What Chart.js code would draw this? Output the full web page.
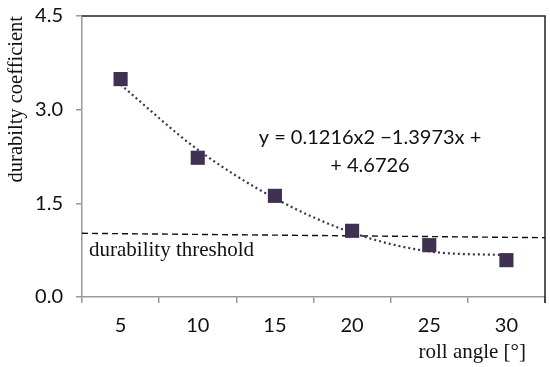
<!DOCTYPE html>
<html>
<head>
<meta charset="utf-8">
<script src="https://cdn.jsdelivr.net/npm/chart.js@4/dist/chart.umd.min.js"></script>
<style>
  html, body { margin: 0; padding: 0; background: #fff; }
  #wrap { width: 550px; height: 367px; }
</style>
</head>
<body>
<div id="wrap"><canvas id="durChart"></canvas></div>
<script>
// data
const rollAngles = ['5', '10', '15', '20', '25', '30'];
const durability = [3.49, 2.23, 1.62, 1.06, 0.83, 0.59];
// polynomial trendline values at each category (as plotted)
const trendValues = [3.40, 2.36, 1.58, 1.03, 0.73, 0.67];
// dashed threshold, value at left and right edge of the plot
const thresholdEnds = [1.02, 0.95];
const yTicks = [0.0, 1.5, 3.0, 4.5];

const markColor = '#403152';
const sansFont = 'Lato, "Open Sans", sans-serif';
const serifFont = '"Liberation Serif", "DejaVu Serif", serif';

// frame, equation and threshold label
const extras = {
    id: 'extras',
    afterDatasetsDraw(chart) {
        const { ctx, chartArea: a, scales } = chart;
        ctx.save();
        ctx.strokeStyle = '#222';
        ctx.lineWidth = 1.5;
        ctx.beginPath();
        ctx.moveTo(a.left, a.top);
        ctx.lineTo(a.right, a.top);
        ctx.lineTo(a.right, a.bottom + 6);
        ctx.stroke();

        ctx.fillStyle = '#111';
        ctx.textAlign = 'center';
        ctx.textBaseline = 'middle';
        ctx.font = '20px ' + sansFont;
        const eqX = a.left + a.width * 0.622;
        ctx.fillText('y = 0.1216x2 \u22121.3973x +', eqX, scales.y.getPixelForValue(2.55));
        ctx.fillText('+ 4.6726', eqX, scales.y.getPixelForValue(2.11));

        ctx.textAlign = 'left';
        ctx.font = '21px ' + serifFont;
        ctx.fillText('durability threshold', a.left + 7, scales.y.getPixelForValue(0.75));

        ctx.textAlign = 'right';
        ctx.fillText('roll angle [\u00b0]', a.right - 19, chart.height - 15);
        ctx.restore();
    }
};

const ctx = document.getElementById('durChart').getContext('2d');
const durChart = new Chart(ctx, {
    type: 'line',
    data: {
        labels: rollAngles,
        datasets: [{
            label: 'durability coefficient',
            data: durability,
            showLine: false,
            pointStyle: 'rect',
            pointRadius: 10,
            pointHoverRadius: 10,
            backgroundColor: markColor,
            borderColor: markColor,
            pointBorderWidth: 0
        }, {
            label: 'trend',
            data: trendValues,
            borderColor: markColor,
            borderWidth: 2.2,
            borderDash: [2, 3],
            cubicInterpolationMode: 'monotone',
            pointRadius: 0,
            fill: false
        }, {
            label: 'threshold',
            xAxisID: 'x2',
            data: [{ x: 0, y: thresholdEnds[0] }, { x: 1, y: thresholdEnds[1] }],
            borderColor: '#111',
            borderWidth: 1.4,
            borderDash: [6, 4],
            pointRadius: 0,
            fill: false
        }]
    },
    options: {
        responsive: true,
        maintainAspectRatio: false,
        animation: false,
        layout: { autoPadding: false, padding: { left: 2, right: 5, top: 16, bottom: 0 } },
        plugins: {
            legend: { display: false },
            tooltip: { enabled: false }
        },
        scales: {
            x: {
                type: 'category',
                offset: true,
                grid: { display: true, drawOnChartArea: false, offset: true, tickLength: 6, color: '#999', lineWidth: 1.5 },
                border: { color: '#999', width: 1.5 },
                ticks: { color: '#111', font: { family: sansFont, size: 20 }, padding: 11, maxRotation: 0 },
                afterFit(scale) {
                    scale.height = 70;
                    scale.paddingLeft = 0;
                    scale.paddingRight = 0;
                }
            },
            x2: {
                type: 'linear',
                display: false,
                min: 0,
                max: 1
            },
            y: {
                min: 0,
                max: 4.5,
                afterBuildTicks(scale) { scale.ticks = yTicks.map(v => ({ value: v })); },
                grid: { display: true, drawOnChartArea: false, tickLength: 6, color: '#999', lineWidth: 1.5 },
                border: { color: '#999', width: 1.5 },
                ticks: {
                    color: '#111',
                    font: { family: sansFont, size: 20 },
                    padding: 13,
                    callback: v => Number(v).toFixed(1)
                },
                title: {
                    display: true,
                    text: 'durabilty coefficient',
                    align: 'end',
                    color: '#111',
                    font: { family: serifFont, size: 20.5 },
                    padding: { top: 2, bottom: 2 }
                },
                afterFit(scale) {
                    scale.width = 80;
                    scale.paddingTop = 0;
                    scale.paddingBottom = 0;
                }
            }
        }
    },
    plugins: [extras]
});
</script>
</body>
</html>
